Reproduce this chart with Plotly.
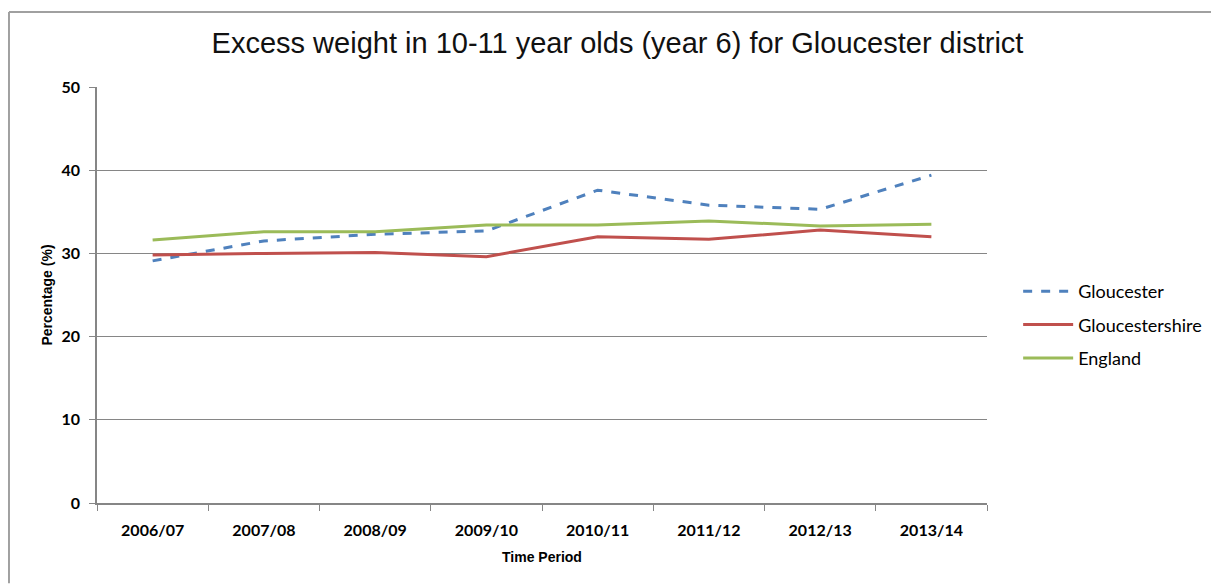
import plotly.graph_objects as go

# data
periods = ['2006/07', '2007/08', '2008/09', '2009/10', '2010/11', '2011/12', '2012/13', '2013/14']
gloucester = [29.1, 31.5, 32.3, 32.7, 37.6, 35.8, 35.3, 39.4]
gloucestershire = [29.8, 30.0, 30.1, 29.6, 32.0, 31.7, 32.8, 32.0]
england = [31.6, 32.6, 32.6, 33.4, 33.4, 33.9, 33.3, 33.5]

series = [
    ('Gloucester', gloucester, '#4F81BD', 'dash'),
    ('Gloucestershire', gloucestershire, '#C0504D', 'solid'),
    ('England', england, '#9BBB59', 'solid'),
]

fig = go.Figure()
for name, vals, colour, dash in series:
    fig.add_trace(go.Scatter(
        x=periods, y=vals, name=name, mode='lines', legendgroup=name,
        line=dict(color=colour, width=3, dash=dash),
    ))

tick_font = dict(family='Lato, Open Sans, sans-serif', size=16, color='#000000', weight='bold')
label_font = dict(family='Liberation Sans, Arial, sans-serif', size=14, color='#000000')

# the page body has an 8px margin, so margins are shifted by that
fig.update_layout(
    width=1219, height=586,
    margin=dict(l=89, r=240, t=79, b=91),
    plot_bgcolor='white', paper_bgcolor='white',
    title=dict(text='Excess weight in 10-11 year olds (year 6) for Gloucester district',
               x=0.5, xanchor='center', y=0.94, yanchor='middle',
               font=dict(family='Liberation Sans, Arial, sans-serif', size=29, color='#111111')),
    legend=dict(x=1.035, xanchor='left', y=0.428, yanchor='middle',
                font=dict(family='Lato, Open Sans, sans-serif', size=18, color='#000000'),
                tracegroupgap=7, itemwidth=50),
    showlegend=True,
)

fig.update_xaxes(
    type='category', range=[-0.5, len(periods) - 0.5],
    tickson='boundaries', ticks='outside', ticklen=6,
    tickcolor='#868686', showline=True, linecolor='#868686', linewidth=1.5,
    showgrid=False, tickfont=tick_font, ticklabelstandoff=12,
    title=dict(text='<b>Time Period</b>', standoff=14, font=label_font),
)
fig.update_yaxes(
    range=[0, 50], dtick=10, ticks='outside', ticklen=6, tickcolor='#868686',
    showline=True, linecolor='#868686', linewidth=1.5,
    showgrid=True, gridcolor='#868686', gridwidth=1, zeroline=False,
    tickfont=tick_font, ticklabelstandoff=6,
    title=dict(text='<b>Percentage (%)</b>', standoff=6, font=label_font),
)

# outer chart border (top and left edges only are in view)
border = dict(color='#A0A0A0', width=2)
fig.add_shape(type='line', xref='paper', yref='paper',
              x0=-0.0989, x1=1.258, y0=1.18, y1=1.18, line=border)
fig.add_shape(type='line', xref='paper', yref='paper',
              x0=-0.0989, x1=-0.0989, y0=1.18, y1=-0.193, line=border)

fig.write_html("out.html")
